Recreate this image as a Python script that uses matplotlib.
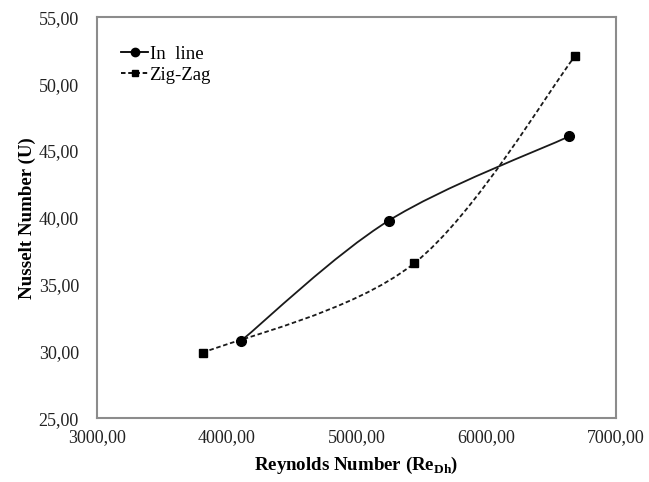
import matplotlib
matplotlib.use('Agg')
import matplotlib.pyplot as plt
from matplotlib.path import Path
from matplotlib.patches import PathPatch
from matplotlib.lines import Line2D
from matplotlib.ticker import FuncFormatter

plt.rcParams['font.family'] = ['Liberation Serif', 'DejaVu Serif']
plt.rcParams['mathtext.fontset'] = 'custom'
plt.rcParams['mathtext.rm'] = 'Liberation Serif'
plt.rcParams['mathtext.bf'] = 'Liberation Serif:bold'

# data
inline_re = [4110, 5250, 6640]
inline_nu = [30.8, 39.8, 46.1]
zigzag_re = [3815, 5445, 6685]
zigzag_nu = [29.9, 36.6, 52.1]


def smooth_path(xs, ys):
    # Excel-style smoothed line: cubic Bezier with Catmull-Rom control points
    pts = list(zip(xs, ys))
    verts = [pts[0]]
    codes = [Path.MOVETO]
    n = len(pts)
    for i in range(n - 1):
        p0 = pts[max(i - 1, 0)]
        p1 = pts[i]
        p2 = pts[i + 1]
        p3 = pts[min(i + 2, n - 1)]
        c1 = (p1[0] + (p2[0] - p0[0]) / 6, p1[1] + (p2[1] - p0[1]) / 6)
        c2 = (p2[0] - (p3[0] - p1[0]) / 6, p2[1] - (p3[1] - p1[1]) / 6)
        verts += [c1, c2, p2]
        codes += [Path.CURVE4] * 3
    return Path(verts, codes)


fig = plt.figure(figsize=(6.49, 4.82), dpi=100)
ax = fig.add_axes([0.1495, 0.132, 0.7995, 0.832])

ax.add_patch(PathPatch(smooth_path(inline_re, inline_nu), fill=False,
                       edgecolor='#1a1a1a', lw=1.3, ls='-'))
ax.add_patch(PathPatch(smooth_path(zigzag_re, zigzag_nu), fill=False,
                       edgecolor='#1a1a1a', lw=1.3, ls=(0, (2.5, 1.5))))
ax.plot(inline_re, inline_nu, ls='none', marker='o', ms=7, color='black')
ax.plot(zigzag_re, zigzag_nu, ls='none', marker='s', ms=5.5, color='black')

ax.set_xlim(3000, 7000)
ax.set_ylim(25, 55)
ax.set_xticks([3000, 4000, 5000, 6000, 7000])
ax.set_yticks([25, 30, 35, 40, 45, 50, 55])
fmt = FuncFormatter(lambda v, p: ('%.2f' % v).replace('.', ','))
ax.xaxis.set_major_formatter(fmt)
ax.yaxis.set_major_formatter(fmt)
ax.tick_params(length=0, labelsize=13, colors='#222222')
ax.tick_params(axis='y', pad=13)
ax.tick_params(axis='x', pad=8)

for s in ax.spines.values():
    s.set_color('#8c8c8c')
    s.set_linewidth(1.5)

ax.set_xlabel('Reynolds Number (Re$_{\\mathbf{Dh}}$)', fontsize=13.6,
              fontweight='bold', labelpad=6)
ax.set_ylabel('Nusselt Number (U)', fontsize=13.6, fontweight='bold', labelpad=2)

handles = [
    Line2D([], [], color='black', lw=1.3, marker='o', ms=6),
    Line2D([], [], color='black', lw=1.3, ls=(0, (2.5, 1.5)), marker='s', ms=5),
]
ax.legend(handles, ['In  line', 'Zig-Zag'], loc='upper left', frameon=False,
          fontsize=13.5, handlelength=1.4, handletextpad=0.1, labelspacing=0.2,
          borderaxespad=0.9, bbox_to_anchor=(0.0, 0.99))

fig.savefig('out.png', dpi=100)
